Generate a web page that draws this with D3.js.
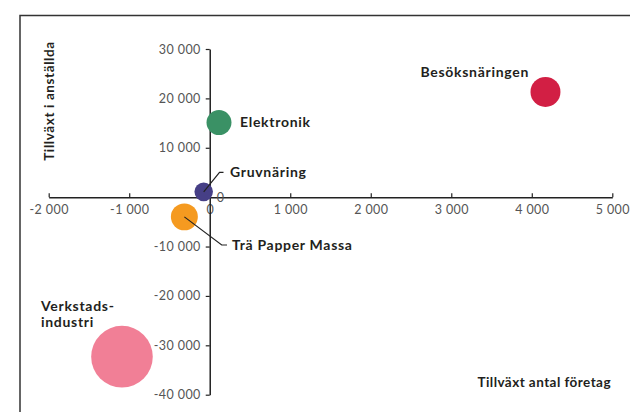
<!DOCTYPE html>
<html><head><meta charset="utf-8">
<script src="https://cdn.jsdelivr.net/npm/d3@7"></script>
<style>
body{margin:0;background:#fff;}
svg{display:block;}
</style></head>
<body>
<svg id="chart" width="630" height="412"></svg>
<script>
const names = ["Besöksnäringen","Elektronik","Gruvnäring","Trä Papper Massa","Verkstadsindustri"];
const xValues = [4170, 115, -75, -315, -1090];        // Tillväxt antal företag
const yValues = [21300, 15100, 1070, -3990, -32300];  // Tillväxt i anställda
const sizes = [225, 156, 86, 182, 950];               // bubble size
const colors = ["#d21f44","#3a9165","#463f86","#f59a20","#f17f96"];
const xTicks = [-2000,-1000,0,1000,2000,3000,4000,5000];
const yTicks = [30000,20000,10000,0,-10000,-20000,-30000,-40000];
const xTitle = "Tillväxt antal företag";
const yTitle = "Tillväxt i anställda";

const svg = d3.select("#chart");
const font = "Lato, 'Open Sans', sans-serif";

const x = d3.scaleLinear().domain([-2000,5000]).range([48.7,612.3]);
const y = d3.scaleLinear().domain([-40000,30000]).range([394.7,49]);
const r = d3.scaleSqrt().domain([0, d3.max(sizes)]).range([0,30.8]);

const loc = d3.formatLocale({decimal:",", thousands:"\u00a0", grouping:[3], currency:["",""], minus:"-"});
const fmt = loc.format(",d");

// frame
svg.append("path").attr("d","M20,413V15.5H631").attr("fill","none").attr("stroke","#333").attr("stroke-width",1.5);

// x axis
const gx = svg.append("g").attr("transform",`translate(0,${y(0)})`)
  .call(d3.axisBottom(x).tickValues(xTicks).tickFormat(fmt).tickSizeInner(-4).tickSizeOuter(0).tickPadding(10));
gx.select(".domain").attr("stroke","#222").attr("stroke-width",1.5);
gx.selectAll(".tick line").attr("stroke","#222").attr("stroke-width",1.2);
gx.selectAll(".tick text").attr("font-family",font).attr("font-size",12.5).attr("letter-spacing",0.4).attr("fill","#555").attr("dy","0.55em");

// y axis
const gy = svg.append("g").attr("transform",`translate(${x(0)},0)`)
  .call(d3.axisLeft(y).tickValues(yTicks).tickFormat(fmt).tickSizeInner(4).tickSizeOuter(0).tickPadding(5));
gy.select(".domain").attr("stroke","#222").attr("stroke-width",1.5);
gy.selectAll(".tick line").attr("stroke","#222").attr("stroke-width",1.2);
gy.selectAll(".tick text").attr("font-family",font).attr("font-size",12.5).attr("letter-spacing",0.4).attr("fill","#555");
gy.selectAll(".tick").filter(d=>d===0).select("text").attr("x",7).attr("text-anchor","start");

// titles
svg.append("text").attr("x",611).attr("y",387).attr("text-anchor","end")
  .attr("font-family",font).attr("font-weight",700).attr("font-size",13.5).attr("letter-spacing",0.45).attr("fill","#231f20").text(xTitle);
svg.append("text").attr("transform","translate(54,101) rotate(-90)").attr("text-anchor","middle")
  .attr("font-family",font).attr("font-weight",700).attr("font-size",13.5).attr("letter-spacing",0.6).attr("fill","#231f20").text(yTitle);

// leader lines
const leaders = [
  {i:2, pts:[[x(xValues[2]),y(yValues[2])],[219.5,172.3],[223.5,172.3]]},
  {i:3, pts:[[x(xValues[3]),y(yValues[3])],[221.7,245],[227,245]]}
];

// bubbles
const data = names.map((n,i)=>({n, x:xValues[i], y:yValues[i], s:sizes[i], c:colors[i]}));
svg.append("g").selectAll("circle").data(data).join("circle")
  .attr("cx",d=>x(d.x)).attr("cy",d=>y(d.y)).attr("r",d=>r(d.s)).attr("fill",d=>d.c);

svg.append("g").selectAll("path").data(leaders).join("path")
  .attr("d",d=>d3.line()(d.pts)).attr("fill","none").attr("stroke","#222").attr("stroke-width",1.2);

// labels
const lab = (t,xx,yy,anchor) => svg.append("text").attr("x",xx).attr("y",yy).attr("text-anchor",anchor||"start")
  .attr("font-family",font).attr("font-weight",700).attr("font-size",14).attr("letter-spacing",0.7).attr("fill","#231f20").text(t);
lab(names[0],529,77,"end");
lab(names[1],240,127);
lab(names[2],230,177);
lab(names[3],232,250);
lab("Verkstads-",41,311);
lab("industri",41,327);
</script>
</body></html>
